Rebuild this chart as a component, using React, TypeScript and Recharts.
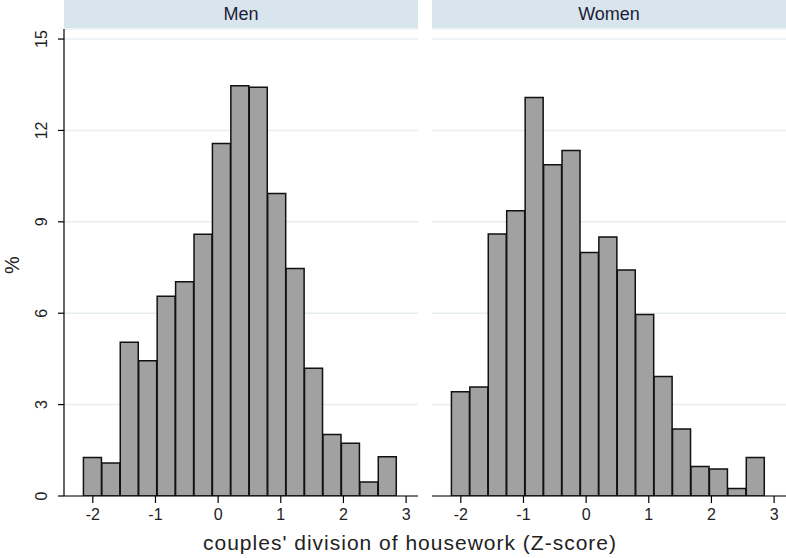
import React from 'react';
import { BarChart, Bar, XAxis, YAxis, CartesianGrid } from 'recharts';

// bin midpoints (Z-score), 17 bins of equal width
const binCenters = [-2.003, -1.709, -1.415, -1.121, -0.826, -0.532, -0.238, 0.056, 0.35, 0.644, 0.938, 1.232, 1.526, 1.821, 2.115, 2.409, 2.703];
const menPct = [1.26, 1.08, 5.05, 4.44, 6.56, 7.03, 8.59, 11.57, 13.47, 13.42, 9.93, 7.47, 4.19, 2.02, 1.73, 0.46, 1.29];
const womenPct = [3.42, 3.58, 8.6, 9.36, 13.08, 10.87, 11.34, 7.99, 8.5, 7.42, 5.96, 3.92, 2.2, 0.97, 0.89, 0.25, 1.26];
const xTicks = [-2, -1, 0, 1, 2, 3];
const yTicks = [0, 3, 6, 9, 12, 15];
const panels = ['Men', 'Women'];

const menData = binCenters.map((x, i) => ({ x, pct: menPct[i] }));
const womenData = binCenters.map((x, i) => ({ x, pct: womenPct[i] }));

const FONT = '"Liberation Sans", Arial, sans-serif';
const X_DOMAIN: [number, number] = [-2.46, 3.19];
const Y_DOMAIN: [number, number] = [0, 15.33];

const YTick = (props: any) => {
  const { x, y, payload } = props;
  return (
    <text x={x} y={y} transform={`rotate(-90 ${x} ${y})`} textAnchor="middle"
      fontSize={16} fill="#222" fontFamily={FONT}>
      {payload.value}
    </text>
  );
};

const Strip = ({ left, width, label }: { left: number; width: number; label: string }) => (
  <div style={{
    position: 'absolute', left, top: 0, width, height: 28, background: '#d9e5ec',
    display: 'flex', alignItems: 'center', justifyContent: 'center',
    fontFamily: FONT, fontSize: 18, color: '#1c1c38',
  }}>{label}</div>
);

function Panel({ data, showY, width }: { data: any[]; showY: boolean; width: number }) {
  return (
    <BarChart width={width} height={558} data={data} barCategoryGap={0} barGap={0}
      margin={{ top: 29, right: 0, bottom: 32, left: 0 }}>
      <CartesianGrid horizontal vertical={false} stroke="#e6eef2" strokeWidth={1.5} />
      <XAxis dataKey="x" type="number" domain={X_DOMAIN} ticks={xTicks} allowDataOverflow
        height={30} tickSize={7} tickMargin={6} interval={0}
        axisLine={{ stroke: '#000', strokeWidth: 1.2 }} tickLine={{ stroke: '#000', strokeWidth: 1.2 }}
        tick={{ fontSize: 16, fill: '#222', fontFamily: FONT }} />
      <YAxis type="number" domain={Y_DOMAIN} ticks={yTicks} allowDataOverflow hide={!showY}
        width={64} tickSize={6} tickMargin={11} interval={0}
        axisLine={{ stroke: '#000', strokeWidth: 1.2 }} tickLine={{ stroke: '#000', strokeWidth: 1.2 }}
        tick={<YTick />} />
      <Bar dataKey="pct" fill="#a1a1a1" stroke="#111" strokeWidth={1.5} isAnimationActive={false} />
    </BarChart>
  );
}

export default function App() {
  return (
    <div style={{ position: 'absolute', left: 0, top: 0, width: 786, height: 558, background: '#fff', overflow: 'hidden' }}>
      <div style={{ position: 'absolute', left: 0, top: 0 }}>
        <Panel data={menData} showY width={418} />
      </div>
      <div style={{ position: 'absolute', left: 432, top: 0 }}>
        <Panel data={womenData} showY={false} width={354} />
      </div>
      <Strip left={64} width={354} label={panels[0]} />
      <Strip left={432} width={354} label={panels[1]} />
      <div style={{
        position: 'absolute', left: 1, top: 254, width: 22, height: 22,
        transform: 'rotate(-90deg)', fontFamily: FONT, fontSize: 20, color: '#222',
        display: 'flex', alignItems: 'center', justifyContent: 'center',
      }}>%</div>
      <div style={{
        position: 'absolute', left: 160, width: 500, top: 531, textAlign: 'center',
        fontFamily: FONT, fontSize: 21, letterSpacing: 1, color: '#222',
      }}>couples' division of housework (Z-score)</div>
    </div>
  );
}
